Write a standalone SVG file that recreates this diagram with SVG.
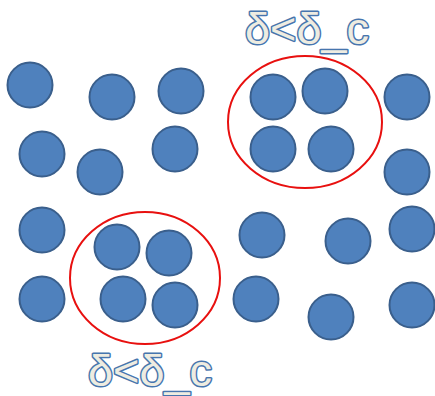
<svg xmlns="http://www.w3.org/2000/svg" width="435" height="396" viewBox="0 0 435 396">
<style>
.p{fill:#4F81BD;stroke:#3A5F8C;stroke-width:2}
.e{fill:none;stroke:#E8100F;stroke-width:2}
.t{font-family:"Liberation Sans",Arial,sans-serif;font-size:45px;fill:#EEECE1;stroke:#4675AE;stroke-width:3;paint-order:stroke;stroke-linejoin:round}
</style>
<rect width="435" height="396" fill="#fff"/>
<g id="particles">
<circle class="p" cx="30" cy="85" r="22.5"/>
<circle class="p" cx="112" cy="97" r="22.5"/>
<circle class="p" cx="181" cy="91" r="22.5"/>
<circle class="p" cx="42" cy="154" r="22.5"/>
<circle class="p" cx="100" cy="172" r="22.5"/>
<circle class="p" cx="175" cy="149" r="22.5"/>
<circle class="p" cx="407" cy="97" r="22.5"/>
<circle class="p" cx="407" cy="172" r="22.5"/>
<circle class="p" cx="42" cy="230" r="22.5"/>
<circle class="p" cx="42" cy="299" r="22.5"/>
<circle class="p" cx="262" cy="235" r="22.5"/>
<circle class="p" cx="348" cy="241" r="22.5"/>
<circle class="p" cx="412" cy="229" r="22.5"/>
<circle class="p" cx="256" cy="299" r="22.5"/>
<circle class="p" cx="331" cy="317" r="22.5"/>
<circle class="p" cx="412" cy="305" r="22.5"/>
</g>
<g id="cluster-top">
<ellipse class="e" cx="305" cy="122" rx="77" ry="66"/>
<circle class="p" cx="273" cy="97" r="22.5"/>
<circle class="p" cx="325" cy="91" r="22.5"/>
<circle class="p" cx="273" cy="149" r="22.5"/>
<circle class="p" cx="331" cy="149" r="22.5"/>
<text class="t" x="307" y="44" text-anchor="middle">δ&lt;δ_c</text>
</g>
<g id="cluster-bottom">
<ellipse class="e" cx="145" cy="278" rx="75" ry="66"/>
<circle class="p" cx="117" cy="247" r="22.5"/>
<circle class="p" cx="169" cy="253" r="22.5"/>
<circle class="p" cx="123" cy="299" r="22.5"/>
<circle class="p" cx="175" cy="305" r="22.5"/>
<text class="t" x="150" y="386" text-anchor="middle">δ&lt;δ_c</text>
</g>
<g id="connectors"/>
</svg>
